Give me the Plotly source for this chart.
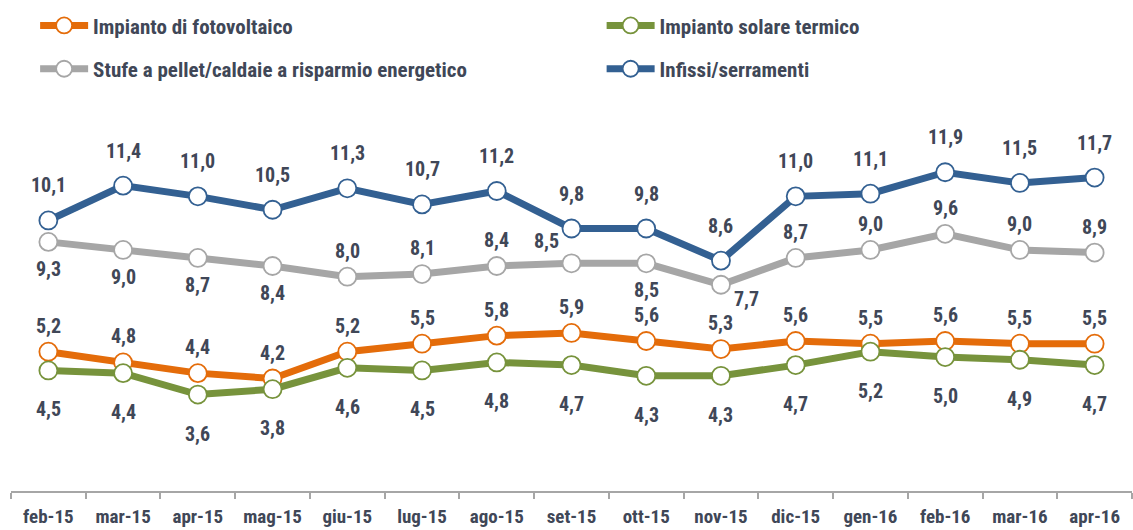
import plotly.graph_objects as go

# Monthly categories
months = ["feb-15", "mar-15", "apr-15", "mag-15", "giu-15", "lug-15", "ago-15",
          "set-15", "ott-15", "nov-15", "dic-15", "gen-16", "feb-16", "mar-16", "apr-16"]

# Series values
fotovoltaico = [5.2, 4.8, 4.4, 4.2, 5.2, 5.5, 5.8, 5.9, 5.6, 5.3, 5.6, 5.5, 5.6, 5.5, 5.5]
solare_termico = [4.5, 4.4, 3.6, 3.8, 4.6, 4.5, 4.8, 4.7, 4.3, 4.3, 4.7, 5.2, 5.0, 4.9, 4.7]
stufe = [9.3, 9.0, 8.7, 8.4, 8.0, 8.1, 8.4, 8.5, 8.5, 7.7, 8.7, 9.0, 9.6, 9.0, 8.9]
infissi = [10.1, 11.4, 11.0, 10.5, 11.3, 10.7, 11.2, 9.8, 9.8, 8.6, 11.0, 11.1, 11.9, 11.5, 11.7]

# Grey label placement: "a" above, "b" below, "l" upper-left, "r" lower-right
stufe_pos = ["b", "b", "b", "b", "a", "a", "a", "l", "b", "r", "a", "a", "a", "a", "a"]
STUFE_SHIFT = {"a": (0, 26), "b": (0, -27), "l": (-25, 22), "r": (26, -14)}

FONT = "Liberation Sans Narrow, Arial Narrow, Roboto Condensed, Liberation Sans, sans-serif"
TEXT_COLOR = "#404757"

series = [
    ("Impianto di fotovoltaico", fotovoltaico, "#E46C0A", "legend", "g1"),
    ("Impianto solare termico", solare_termico, "#77933C", "legend2", "g2"),
    ("Stufe a pellet/caldaie a risparmio energetico", stufe, "#A6A6A6", "legend", "g3"),
    ("Infissi/serramenti", infissi, "#336092", "legend2", "g4"),
]

fig = go.Figure()
for name, vals, color, leg, grp in series:
    fig.add_trace(go.Scatter(
        x=months, y=vals, name=name, mode="lines+markers",
        line=dict(color=color, width=7),
        marker=dict(size=18, color="white", line=dict(color=color, width=1.8)),
        legend=leg, legendgroup=grp, hoverinfo="skip",
    ))


def fmt(v):
    return f"{v:.1f}".replace(".", ",")


annotations = []
for i, m in enumerate(months):
    annotations.append(dict(x=m, y=infissi[i], text=fmt(infissi[i]), yshift=35))
    annotations.append(dict(x=m, y=fotovoltaico[i], text=fmt(fotovoltaico[i]), yshift=26))
    annotations.append(dict(x=m, y=solare_termico[i], text=fmt(solare_termico[i]), yshift=-39))
    dx, dy = STUFE_SHIFT[stufe_pos[i]]
    annotations.append(dict(x=m, y=stufe[i], text=fmt(stufe[i]), xshift=dx, yshift=dy))
for a in annotations:
    a.update(xref="x", yref="y", showarrow=False,
             font=dict(family=FONT, size=20, color=TEXT_COLOR, weight="bold"))

legend_common = dict(
    orientation="v", traceorder="grouped", tracegroupgap=13,
    font=dict(family=FONT, size=21, color=TEXT_COLOR, weight="bold"),
    bgcolor="rgba(0,0,0,0)", itemwidth=48,
    xref="container", yref="container", xanchor="left", yanchor="top",
    itemclick=False, itemdoubleclick=False,
)

fig.update_layout(
    width=1133, height=530,
    margin=dict(l=11, r=1, t=116, b=39, autoexpand=False),
    plot_bgcolor="white", paper_bgcolor="white",
    showlegend=True,
    legend=dict(x=0.031, y=0.99, **legend_common),
    legend2=dict(x=0.531, y=0.99, **legend_common),
    xaxis=dict(
        type="category", range=[-0.5, 14.5],
        showline=True, linecolor="#A6A6A6", linewidth=2,
        ticks="outside", ticklen=6, tickcolor="#A6A6A6", tickwidth=2,
        tickson="boundaries", showgrid=False, zeroline=False,
        ticklabelstandoff=7, tickangle=0, automargin=False,
        tickfont=dict(family=FONT, size=19, color=TEXT_COLOR, weight="bold"),
    ),
    yaxis=dict(range=[0, 14], visible=False, showgrid=False, zeroline=False,
               automargin=False),
    annotations=annotations,
)

fig.write_html("out.html")
